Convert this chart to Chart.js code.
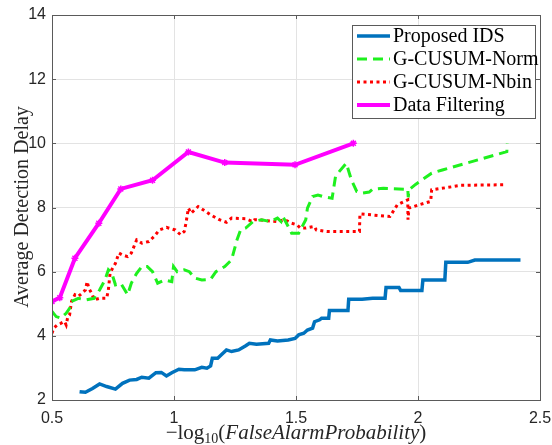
<!DOCTYPE html>
<html>
<head>
<meta charset="utf-8">
<script src="https://cdn.jsdelivr.net/npm/chart.js@4.4.1/dist/chart.umd.min.js"></script>
<style>
html,body{margin:0;padding:0;background:#fff;}
#wrap{width:552px;height:445px;}
</style>
</head>
<body>
<div id="wrap"><canvas id="c" width="552" height="445"></canvas></div>
<script>
// ---- data ----
const seriesNames = ['Proposed IDS', 'G-CUSUM-Norm', 'G-CUSUM-Nbin', 'Data Filtering'];
const xTicks = [0.5, 1, 1.5, 2, 2.5];
const xTickLabels = ['0.5', '1', '1.5', '2', '2.5'];
const yTicks = [2, 4, 6, 8, 10, 12, 14];
const yTickLabels = ['2', '4', '6', '8', '10', '12', '14'];

const idsX = [0.613,0.637,0.666,0.695,0.724,0.760,0.789,0.818,0.847,0.868,
  0.897,0.926,0.948,0.969,0.991,1.020,1.042,1.085,1.114,1.135,
  1.150,1.157,1.179,1.193,1.215,1.236,1.265,1.294,1.309,1.338,
  1.388,1.395,1.424,1.468,1.496,1.511,1.532,1.547,1.568,1.576,
  1.597,1.605,1.634,1.637,1.677,1.713,1.716,1.771,1.814,1.865,
  1.869,1.922,1.929,2.016,2.020,2.110,2.114,2.204,2.233,2.420];
const idsY = [2.26,2.24,2.36,2.50,2.42,2.34,2.52,2.62,2.64,2.71,
  2.68,2.85,2.86,2.75,2.85,2.96,2.94,2.94,3.02,2.99,
  3.06,3.30,3.30,3.40,3.56,3.51,3.56,3.69,3.77,3.74,
  3.77,3.87,3.84,3.87,3.92,4.03,4.08,4.18,4.24,4.44,
  4.50,4.55,4.55,4.79,4.79,4.79,5.14,5.14,5.17,5.17,
  5.51,5.51,5.41,5.41,5.74,5.74,6.29,6.29,6.36,6.36];

const normX = [0.5,0.517,0.536,0.558,0.572,0.580,0.608,0.637,0.673,0.695,
  0.717,0.731,0.745,0.760,0.782,0.810,0.825,0.847,0.868,0.890,
  0.912,0.933,0.962,0.991,0.998,1.013,1.042,1.063,1.085,1.114,
  1.150,1.172,1.208,1.236,1.258,1.273,1.294,1.323,1.359,1.395,
  1.424,1.439,1.446,1.461,1.482,1.511,1.540,1.547,1.568,1.590,
  1.611,1.648,1.662,1.677,1.706,1.727,1.749,1.771,1.800,1.814,
  1.858,1.944,1.958,1.960,1.963,1.990,2.056,2.100,2.364,2.366];
const normY = [4.76,4.60,4.55,4.70,4.86,5.07,5.17,5.12,5.17,5.43,
  5.74,6.06,5.95,5.59,5.64,5.28,5.64,5.95,6.16,6.16,
  6.00,5.64,5.74,5.69,6.16,6.00,6.06,6.00,5.80,5.74,
  5.76,6.00,6.16,6.37,6.99,7.30,7.36,7.56,7.62,7.56,
  7.67,7.56,7.72,7.51,7.20,7.20,7.62,7.98,8.34,8.39,
  8.34,8.29,8.97,9.12,9.38,8.86,8.50,8.45,8.48,8.57,
  8.60,8.57,8.58,8.32,8.55,8.72,9.07,9.17,9.74,10.0];

const nbinX = [0.5,0.507,0.522,0.536,0.551,0.558,0.565,0.572,0.580,0.594,
  0.608,0.623,0.637,0.644,0.651,0.662,0.673,0.695,0.724,0.731,
  0.738,0.745,0.760,0.774,0.789,0.810,0.825,0.847,0.868,0.897,
  0.919,0.940,0.969,1.005,1.027,1.042,1.049,1.059,1.070,1.099,
  1.121,1.150,1.186,1.215,1.236,1.294,1.323,1.330,1.366,1.424,
  1.453,1.482,1.504,1.518,1.540,1.576,1.583,1.626,1.706,1.760,
  1.762,1.885,1.915,1.958,1.959,1.963,2.002,2.052,2.056,2.117,
  2.175,2.356];
const nbinY = [4.08,4.24,4.34,4.39,4.45,4.34,4.60,4.65,5.07,5.28,
  5.23,5.33,5.43,5.69,5.48,5.33,5.12,5.17,5.17,5.43,
  5.95,6.06,6.26,6.58,6.52,6.47,6.58,6.99,6.89,6.94,
  7.10,7.30,7.38,7.30,7.15,7.25,7.51,7.98,7.82,8.03,
  7.92,7.77,7.62,7.54,7.67,7.65,7.56,7.62,7.60,7.56,
  7.62,7.51,7.46,7.36,7.36,7.41,7.30,7.25,7.25,7.25,
  7.80,7.72,8.08,8.24,7.62,7.98,8.08,8.19,8.55,8.62,
  8.69,8.71];

const filtX = [0.5,0.532,0.594,0.692,0.782,0.912,1.059,1.208,1.496,1.735];
const filtY = [5.07,5.19,6.42,7.51,8.58,8.85,9.73,9.40,9.33,10.0];

// ---- build ----
const pts = (xs, ys) => xs.map((x, i) => ({x: x, y: ys[i]}));
const AXIS = '#262626';

const frame = {
  id: 'frame',
  afterDatasetsDraw(chart) {
    const ctx = chart.ctx, a = chart.chartArea;
    const xs = chart.scales.x, ys = chart.scales.y;
    ctx.save();
    ctx.strokeStyle = '#5a5a5a';
    ctx.lineWidth = 1;
    ctx.strokeRect(Math.round(a.left) + 0.5, Math.round(a.top) + 0.5,
      Math.round(a.right - a.left), Math.round(a.bottom - a.top));
    const tl = 4;
    ctx.beginPath();
    xTicks.forEach(v => {
      const p = Math.round(xs.getPixelForValue(v)) + 0.5;
      ctx.moveTo(p, a.bottom); ctx.lineTo(p, a.bottom - tl);
      ctx.moveTo(p, a.top); ctx.lineTo(p, a.top + tl);
    });
    yTicks.forEach(v => {
      const p = Math.round(ys.getPixelForValue(v)) + 0.5;
      ctx.moveTo(a.left, p); ctx.lineTo(a.left + tl, p);
      ctx.moveTo(a.right, p); ctx.lineTo(a.right - tl, p);
    });
    ctx.stroke();
    ctx.restore();
  },
  afterDraw(chart) {
    const ctx = chart.ctx, a = chart.chartArea;
    ctx.save();
    // legend
    const bx = a.right - 5, by = a.top + 10, bw = 183, bh = 93;
    ctx.fillStyle = '#fff';
    ctx.fillRect(bx - bw, by, bw, bh);
    ctx.strokeStyle = '#5a5a5a';
    ctx.lineWidth = 1;
    ctx.strokeRect(Math.round(bx - bw) + 0.5, Math.round(by) + 0.5, bw, bh);
    chart.data.datasets.forEach((ds, i) => {
      const yy = by + 11 + i * 23;
      const x0 = bx - bw + 5;
      ctx.save();
      ctx.strokeStyle = ds.borderColor;
      ctx.lineWidth = ds.borderWidth;
      ctx.setLineDash(ds.borderDash || []);
      ctx.beginPath();
      ctx.moveTo(x0, yy); ctx.lineTo(x0 + 33, yy);
      ctx.stroke();
      ctx.restore();
      ctx.fillStyle = '#000';
      ctx.font = '20px "Liberation Serif", serif';
      ctx.textBaseline = 'middle';
      ctx.textAlign = 'left';
      ctx.fillText(ds.label, x0 + 36, yy + 1);
    });
    // y title
    ctx.save();
    ctx.translate(23, 207);
    ctx.rotate(-Math.PI / 2);
    ctx.fillStyle = AXIS;
    ctx.font = '20px "Liberation Serif", serif';
    ctx.textAlign = 'center';
    ctx.textBaseline = 'middle';
    ctx.fillText('Average Detection Delay', 0, 0);
    ctx.restore();
    // x title: −log10(FalseAlarmProbability)
    const parts = [
      {t: '\u2212log', f: '21px "Liberation Serif", serif', dy: 0},
      {t: '10', f: '14px "Liberation Serif", serif', dy: 4},
      {t: '(', f: '21px "Liberation Serif", serif', dy: 0},
      {t: 'FalseAlarmProbability', f: 'italic 21px "Liberation Serif", serif', dy: 0},
      {t: ')', f: '21px "Liberation Serif", serif', dy: 0}
    ];
    let total = 0;
    parts.forEach(p => { ctx.font = p.f; p.w = ctx.measureText(p.t).width; total += p.w; });
    let cx = (a.left + a.right) / 2 - total / 2;
    const base = 439;
    ctx.fillStyle = AXIS;
    ctx.textBaseline = 'alphabetic';
    ctx.textAlign = 'left';
    parts.forEach(p => { ctx.font = p.f; ctx.fillText(p.t, cx, base + p.dy); cx += p.w; });
    ctx.restore();
  }
};

new Chart(document.getElementById('c'), {
  type: 'line',
  data: {
    datasets: [
      {label: seriesNames[0], data: pts(idsX, idsY), borderColor: '#0072BD', borderWidth: 3.5,
       pointRadius: 0, tension: 0},
      {label: seriesNames[1], data: pts(normX, normY), borderColor: '#1EF01E', borderWidth: 3,
       borderDash: [10, 6], pointRadius: 0, tension: 0},
      {label: seriesNames[2], data: pts(nbinX, nbinY), borderColor: '#FF0000', borderWidth: 3,
       borderDash: [3, 3.5], pointRadius: 0, tension: 0},
      {label: seriesNames[3], data: pts(filtX, filtY), borderColor: '#FF00FF', borderWidth: 4,
       pointStyle: 'star', pointRadius: 3.5, pointBorderWidth: 1.5, pointBorderColor: '#FF00FF',
       pointBackgroundColor: '#FF00FF', tension: 0}
    ]
  },
  options: {
    responsive: false,
    devicePixelRatio: 1,
    animation: false,
    layout: {padding: {top: 15, right: 12, left: 0, bottom: 0}},
    plugins: {legend: {display: false}, tooltip: {enabled: false}},
    scales: {
      x: {
        type: 'linear', min: 0.5, max: 2.5,
        afterBuildTicks: s => { s.ticks = xTicks.map(v => ({value: v})); },
        afterFit: s => { s.height = 45; s.paddingLeft = 0; s.paddingRight = 0; },
        grid: {color: '#e3e3e3', lineWidth: 1, drawTicks: false},
        border: {display: false},
        ticks: {
          padding: 9, color: AXIS, maxRotation: 0,
          font: {family: '"Liberation Sans", Arial, sans-serif', size: 16},
          callback: (v) => { const i = xTicks.indexOf(v); return i >= 0 ? xTickLabels[i] : ''; }
        }
      },
      y: {
        type: 'linear', min: 2, max: 14,
        afterBuildTicks: s => { s.ticks = yTicks.map(v => ({value: v})); },
        afterFit: s => { s.width = 52; s.paddingTop = 0; s.paddingBottom = 0; },
        grid: {color: '#e3e3e3', lineWidth: 1, drawTicks: false},
        border: {display: false},
        ticks: {
          padding: 6, color: AXIS,
          font: {family: '"Liberation Sans", Arial, sans-serif', size: 16},
          callback: (v) => { const i = yTicks.indexOf(v); return i >= 0 ? yTickLabels[i] : ''; }
        }
      }
    }
  },
  plugins: [frame]
});
</script>
</body>
</html>
